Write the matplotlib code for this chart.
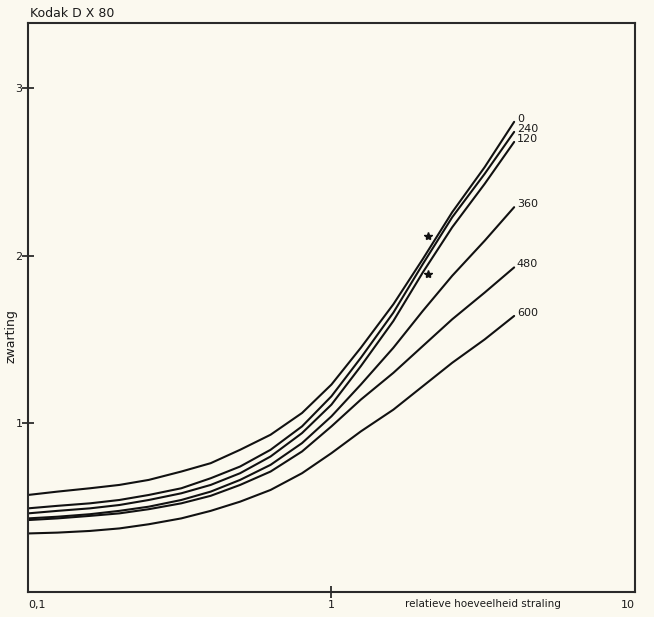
import matplotlib.pyplot as plt
import numpy as np

# relative amount of radiation (log axis)
straling = [0.1, 0.125, 0.16, 0.2, 0.25, 0.32, 0.4, 0.5, 0.63, 0.8,
            1.0, 1.25, 1.6, 2.0, 2.5, 3.2, 4.0]

# density per curve, keyed by curve label
zw_0 = [0.57, 0.59, 0.61, 0.63, 0.66, 0.71, 0.76, 0.84, 0.93, 1.06,
        1.23, 1.45, 1.71, 1.98, 2.26, 2.53, 2.80]
zw_240 = [0.49, 0.505, 0.52, 0.54, 0.57, 0.61, 0.67, 0.74, 0.84, 0.98,
          1.16, 1.39, 1.66, 1.95, 2.23, 2.49, 2.74]
zw_120 = [0.46, 0.475, 0.49, 0.51, 0.54, 0.58, 0.63, 0.70, 0.80, 0.94,
          1.11, 1.34, 1.61, 1.90, 2.17, 2.43, 2.68]
zw_360 = [0.43, 0.44, 0.455, 0.475, 0.50, 0.54, 0.59, 0.66, 0.75, 0.88,
          1.04, 1.23, 1.45, 1.67, 1.88, 2.09, 2.29]
zw_480 = [0.42, 0.43, 0.445, 0.46, 0.485, 0.52, 0.565, 0.63, 0.71, 0.83,
          0.98, 1.14, 1.30, 1.46, 1.62, 1.78, 1.93]
zw_600 = [0.34, 0.345, 0.355, 0.37, 0.395, 0.43, 0.475, 0.53, 0.60, 0.70,
          0.82, 0.95, 1.08, 1.22, 1.36, 1.50, 1.64]

labels = ['0', '240', '120', '360', '480', '600']
curves = [zw_0, zw_240, zw_120, zw_360, zw_480, zw_600]

# the two marked points
ster_x = [2.08, 2.08]
ster_y = [2.12, 1.89]

bg = '#fbf9ef'
ink = '#1a1a1a'
fig = plt.figure(figsize=(6.54, 6.17), dpi=100, facecolor=bg)
ax = fig.add_axes([0.0428, 0.0405, 0.928, 0.922], facecolor=bg)

for lab, zw in zip(labels, curves):
    ax.plot(straling, zw, color='#111111', lw=1.5, solid_capstyle='round')
    ax.text(straling[-1] * 1.02, zw[-1] + 0.02, lab, fontsize=8,
            ha='left', va='center', color=ink)

ax.plot(ster_x, ster_y, ls='none', marker='*', ms=6, color='#111111')

ax.set_xscale('log')
ax.set_xlim(0.1, 10)
ax.set_ylim(-0.01, 3.39)

ax.set_xticks([0.1, 1, 10])
ax.set_xticklabels(['0,1', '1', '10'])
ax.xaxis.set_minor_locator(plt.NullLocator())
ax.tick_params(axis='x', direction='inout', length=8, width=1.2, pad=2,
               labelsize=8, colors=ink)
xt = ax.xaxis.get_major_ticks()
xt[0].tick1line.set_visible(False)
xt[-1].tick1line.set_visible(False)
xt[0].label1.set_horizontalalignment('left')
xt[-1].label1.set_horizontalalignment('right')

ax.set_yticks([1, 2, 3])
ax.set_yticklabels(['1', '2', '3'])
ax.tick_params(axis='y', direction='inout', length=8, width=1.2, pad=0,
               labelsize=8, colors=ink)

for s in ax.spines.values():
    s.set_color('#2a2a2a')
    s.set_linewidth(1.5)

ax.text(0.003, 1.006, 'Kodak D X 80', transform=ax.transAxes,
        fontsize=9, ha='left', va='bottom', color=ink)
ax.text(0.75, -0.012, 'relatieve hoeveelheid straling', transform=ax.transAxes,
        fontsize=7.5, ha='center', va='top', color=ink)
ax.text(-0.028, 0.45, 'zwarting', transform=ax.transAxes, rotation=90,
        fontsize=9, ha='center', va='center', color=ink)

plt.savefig('out.png', dpi=100, facecolor=bg)
